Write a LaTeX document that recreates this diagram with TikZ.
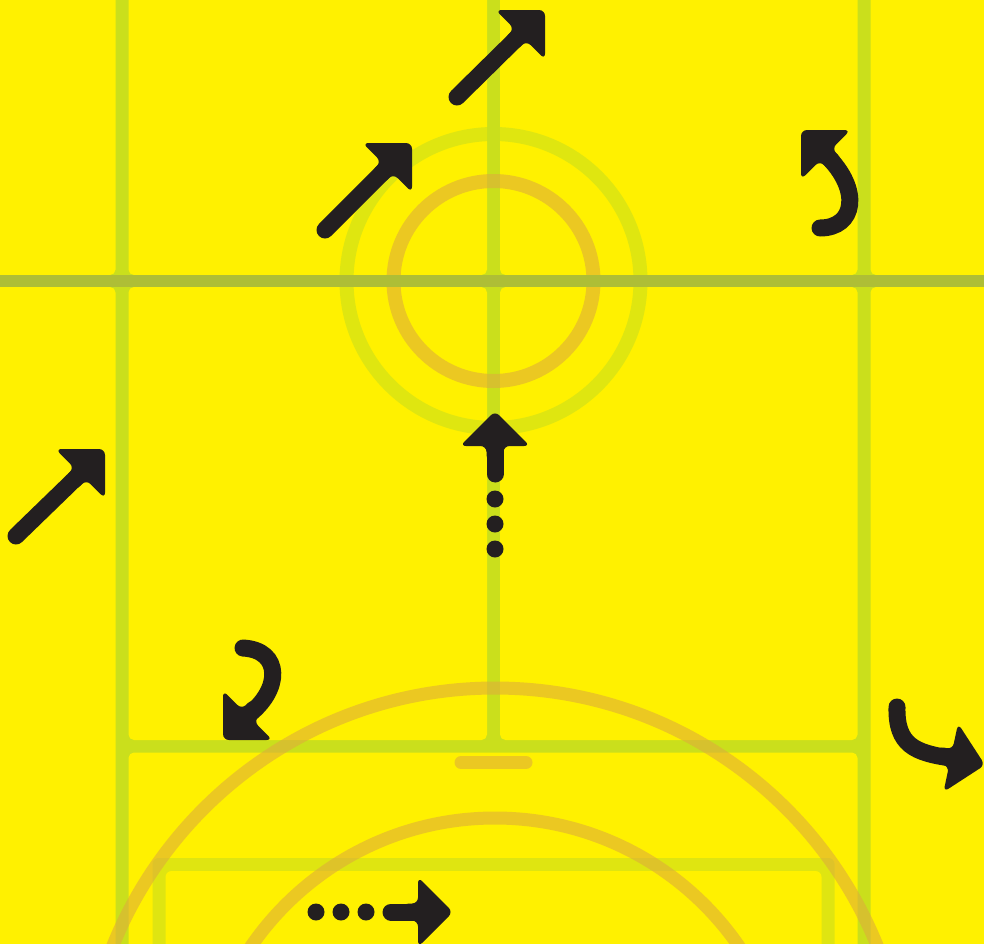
\documentclass[tikz,border=0pt]{standalone}
\definecolor{bgyellow}{HTML}{FFF100}
\definecolor{gridgreen}{HTML}{CADF1C}
\definecolor{boxgreen}{HTML}{DFE511}
\definecolor{olive}{HTML}{AEBE36}
\definecolor{ringorange}{HTML}{DEAD3A}
\definecolor{ink}{HTML}{231F20}
\tikzset{
  cell/.style={fill=bgyellow, rounded corners=5.5pt},
  ring/.style={line width=14pt, draw opacity=0.6},
  shaft/.style={draw=ink, line width=17pt, line cap=round},
  dotmark/.style={fill=ink},
}
\newcommand\headat[3]{\fill[ink, rounded corners=6pt, shift={(#1,#2)}, rotate=#3] (-50,0) -- (-50,8.5) -- (-35,8.5) -- (-35,35) -- (0,0) -- (-35,-35) -- (-35,-8.5) -- (-50,-8.5) -- cycle;}
\begin{document}
\begin{tikzpicture}[x=1pt,y=-1pt]
\useasboundingbox (0,0) rectangle (984,943);
\clip (0,0) rectangle (984,943);
% grid background
\fill[gridgreen] (-5,-5) rectangle (989,948);
\fill[cell] (-20,-20) rectangle (115.5,275);
\fill[cell] (128.5,-20) rectangle (487,275);
\fill[cell] (500,-20) rectangle (857.5,275);
\fill[cell] (870.5,-20) rectangle (1004,275);
\fill[cell] (-20,287) rectangle (115.5,963);
\fill[cell] (128.5,287) rectangle (487,740);
\fill[cell] (500,287) rectangle (857.5,740);
\fill[cell] (870.5,287) rectangle (1004,963);
\fill[cell] (128.5,752.5) rectangle (857.5,963);
% bottom box
\fill[boxgreen, rounded corners=6pt] (152.5,858) rectangle (834.5,980);
\fill[bgyellow, rounded corners=6pt] (165.5,871) rectangle (821.5,980);
% top rings
\draw[ring, draw=gridgreen] (493.5,281) circle (147pt);
\draw[ring, draw=ringorange] (493.5,281) circle (100pt);
% bottom arcs
\draw[ring, line width=13pt, draw=ringorange] (495,1100) circle (412pt);
\draw[ring, line width=13pt, draw=ringorange] (495,1114) circle (296pt);
\draw[ring, line width=13pt, draw=ringorange, line cap=round] (461,762.5) -- (526,762.5);
% centre line
\draw[olive, line width=12.5pt] (-5,281) -- (989,281);
% arrows
\draw[shaft] (325,230) -- (388,167);
\headat{412}{143}{45}
\draw[shaft] (457,97) -- (521,34);
\headat{545}{10}{45}
\draw[shaft] (16,536) -- (81,473);
\headat{105}{449}{45}
\draw[shaft] (495,474) -- (495,445);
\headat{495}{411}{90}
\fill[dotmark] (495,499) circle (8.5pt);
\fill[dotmark] (495,524) circle (8.5pt);
\fill[dotmark] (495,549) circle (8.5pt);
\draw[shaft] (391,912) -- (419,912);
\headat{453}{912}{0}
\fill[dotmark] (316,912) circle (8.5pt);
\fill[dotmark] (341,912) circle (8.5pt);
\fill[dotmark] (366,912) circle (8.5pt);
\draw[shaft] (820,228) .. controls (855,228) and (862,190) .. (826,155);
\headat{801}{130}{135}
\draw[shaft] (243,648) .. controls (282,650) and (282,690) .. (247,716);
\headat{223}{740}{225}
\draw[shaft] (897,707) .. controls (896,745) and (915,753) .. (951,758);
\headat{985}{765}{-12}
\end{tikzpicture}
\end{document}
